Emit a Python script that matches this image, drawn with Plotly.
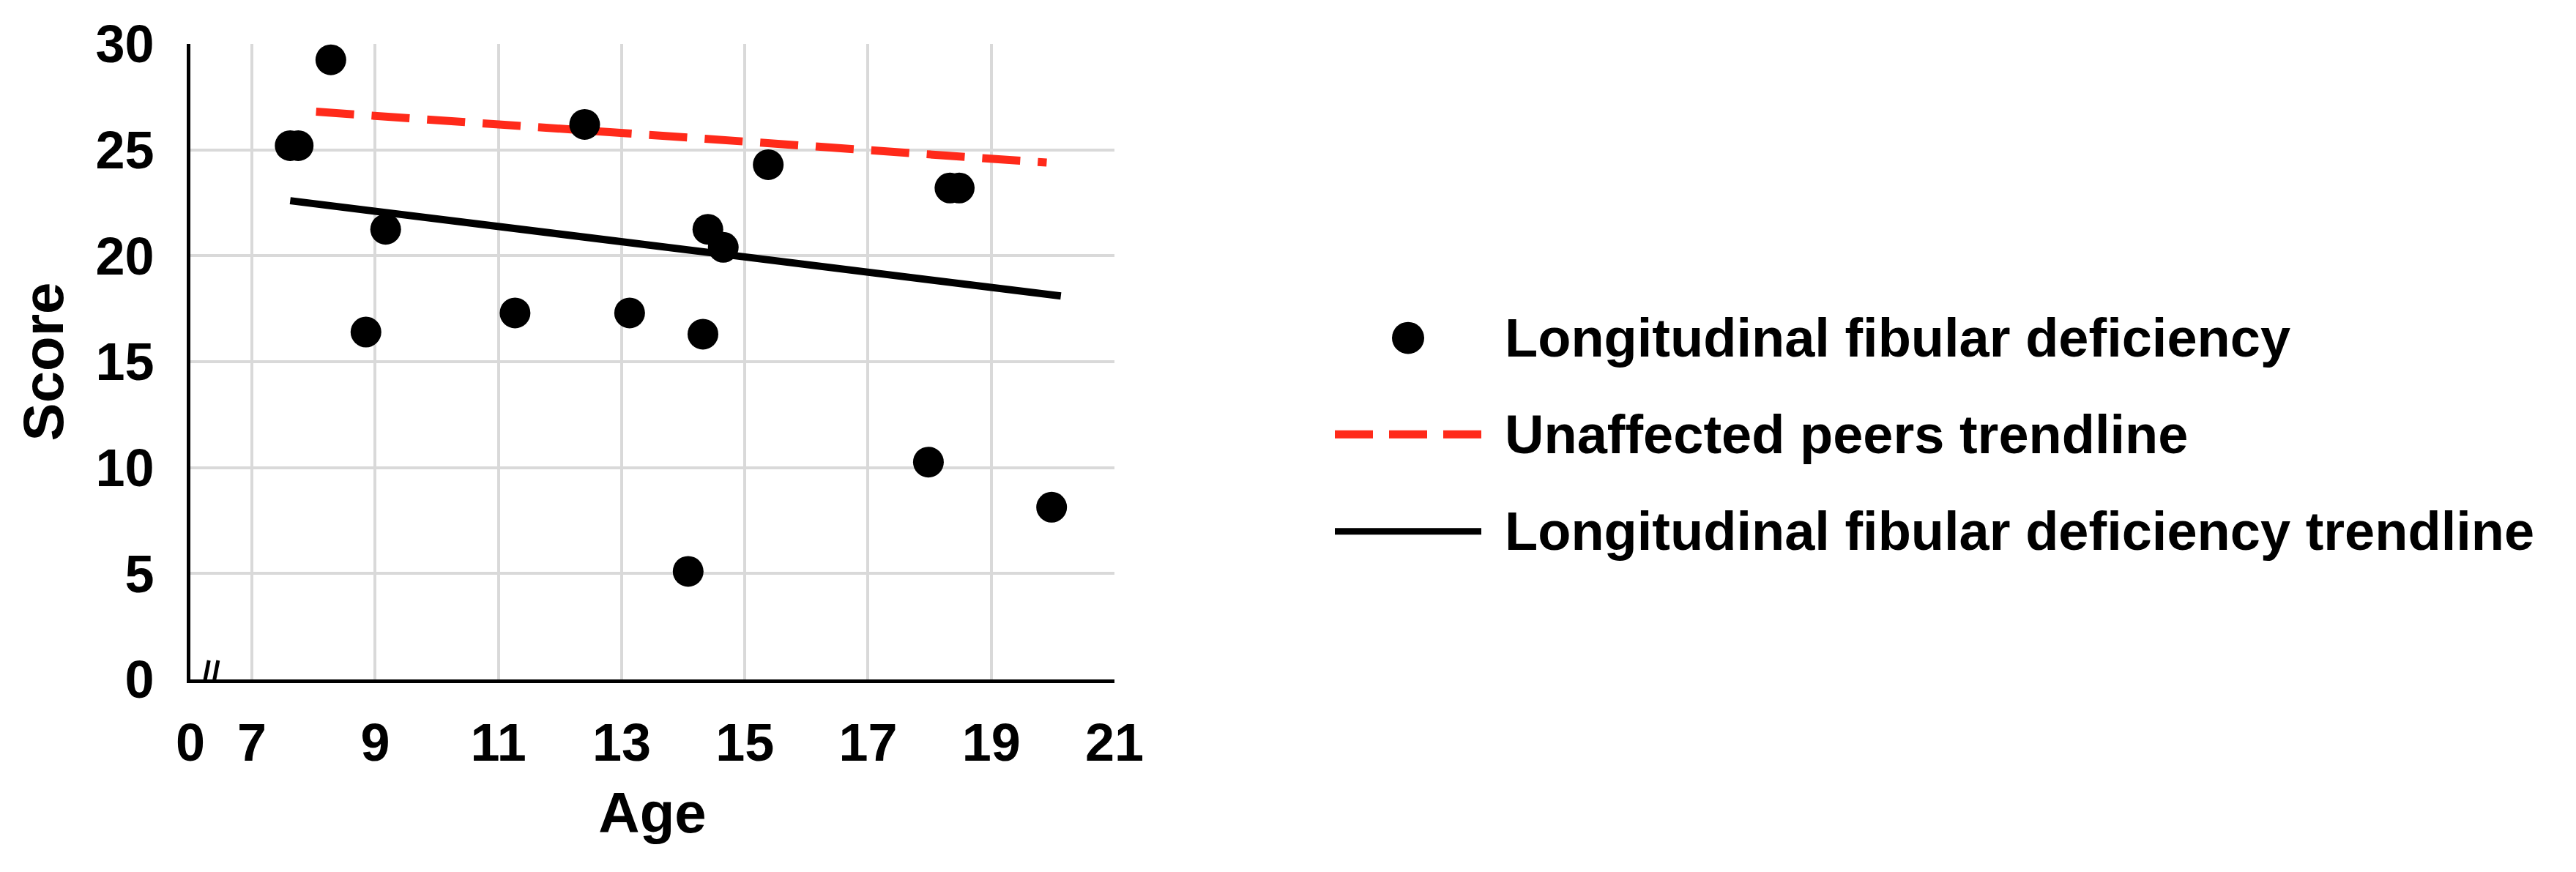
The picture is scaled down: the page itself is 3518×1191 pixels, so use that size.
import plotly.graph_objects as go

ages = [7.62, 7.75, 8.28, 8.85, 9.17, 11.27, 12.4, 13.13, 14.08, 14.32, 14.4, 14.65,
        15.38, 17.17, 17.98, 18.22, 18.33, 18.48, 19.98]
scores = [25.2, 25.2, 29.25, 16.4, 21.25, 17.3, 26.2, 17.3, 5.1, 16.3, 21.25, 20.4,
          24.3, 30.2, 10.26, 30.2, 23.2, 23.2, 8.13]
peers_trend_age = [8.04, 19.9]
peers_trend_score = [26.8, 24.4]
lfd_trend_age = [7.62, 20.13]
lfd_trend_score = [22.6, 18.1]
tick_labels = ["0", "7", "9", "11", "13", "15", "17", "19", "21"]
tick_ages = [0, 7, 9, 11, 13, 15, 17, 19, 21]
OFFSET = 6  # broken axis: ages >= 7 are shifted left by 6 units


def pos(a):
    return [v - OFFSET for v in a]


tickpos = [0] + [t - OFFSET for t in tick_ages[1:]]

FONT = "Liberation Sans"
fig = go.Figure()
fig.add_trace(go.Scatter(x=pos(peers_trend_age), y=peers_trend_score, mode="lines",
                         line=dict(color="#ff2a1a", width=11, dash="52px,24px"),
                         name="Unaffected peers trendline", showlegend=False))
fig.add_trace(go.Scatter(x=pos(lfd_trend_age), y=lfd_trend_score, mode="lines",
                         line=dict(color="black", width=10),
                         name="Longitudinal fibular deficiency trendline", showlegend=False))
fig.add_trace(go.Scatter(x=pos(ages), y=scores, mode="markers", cliponaxis=False,
                         marker=dict(color="black", size=42),
                         name="Longitudinal fibular deficiency", showlegend=False))

L, R, T, B = 252, 1514, 49, 920
W, H = 3518, 1191
fig.update_layout(
    width=W, height=H, paper_bgcolor="white", plot_bgcolor="white",
    margin=dict(l=L, r=W - R, t=T, b=H - B),
    font=dict(family=FONT, color="black"),
    xaxis=dict(range=[0, 15], tickvals=tickpos, ticktext=tick_labels,
               showgrid=True, gridcolor="#d9d9d9", gridwidth=4,
               showline=True, linecolor="black", linewidth=5, zeroline=False,
               tickfont=dict(size=72, family=FONT, weight="bold"), ticks="",
               ticklabelstandoff=20,
               title=dict(text="<b>Age</b>", font=dict(size=78), standoff=30)),
    yaxis=dict(range=[0, 30], tickvals=[0, 5, 10, 15, 20, 25, 30],
               showgrid=True, gridcolor="#d9d9d9", gridwidth=4,
               showline=True, linecolor="black", linewidth=5, zeroline=False,
               tickfont=dict(size=72, family=FONT, weight="bold"), ticks="",
               ticklabelstandoff=30,
               title=dict(text="<b>Score</b>", font=dict(size=78), standoff=20)),
)
# axis break marks
fig.add_shape(type="rect", x0=0.2, x1=0.5, y0=-0.5, y1=0.5, xref="x", yref="y",
              fillcolor="white", line=dict(width=0), layer="above")
for x0 in (0.18, 0.33):
    fig.add_shape(type="line", x0=x0, x1=x0 + 0.12, y0=-0.9, y1=0.9, xref="x", yref="y",
                  line=dict(color="black", width=5), layer="above")


# manual legend
def px(X):
    return (X - L) / (R - L)


def py(Y):
    return 1 - (Y - T) / (B - T)


rows = [(452, "Longitudinal fibular deficiency"), (584, "Unaffected peers trendline"),
        (717, "Longitudinal fibular deficiency trendline")]
fig.add_shape(type="circle", xref="paper", yref="paper",
              x0=px(1893), x1=px(1937), y0=py(rows[0][0] + 22), y1=py(rows[0][0] - 22),
              fillcolor="black", line=dict(width=0))
fig.add_shape(type="line", xref="paper", yref="paper", x0=px(1815), x1=px(2015),
              y0=py(rows[1][0]), y1=py(rows[1][0]),
              line=dict(color="#ff2a1a", width=11, dash="52px,22px"))
fig.add_shape(type="line", xref="paper", yref="paper", x0=px(1815), x1=px(2015),
              y0=py(rows[2][0]), y1=py(rows[2][0]), line=dict(color="black", width=9))
for y, t in rows:
    fig.add_annotation(x=px(2045), y=py(y), xref="paper", yref="paper", text=f"<b>{t}</b>",
                       showarrow=False, xanchor="left", yanchor="middle",
                       font=dict(size=74, family=FONT, color="black"))

fig.write_html("out.html")
